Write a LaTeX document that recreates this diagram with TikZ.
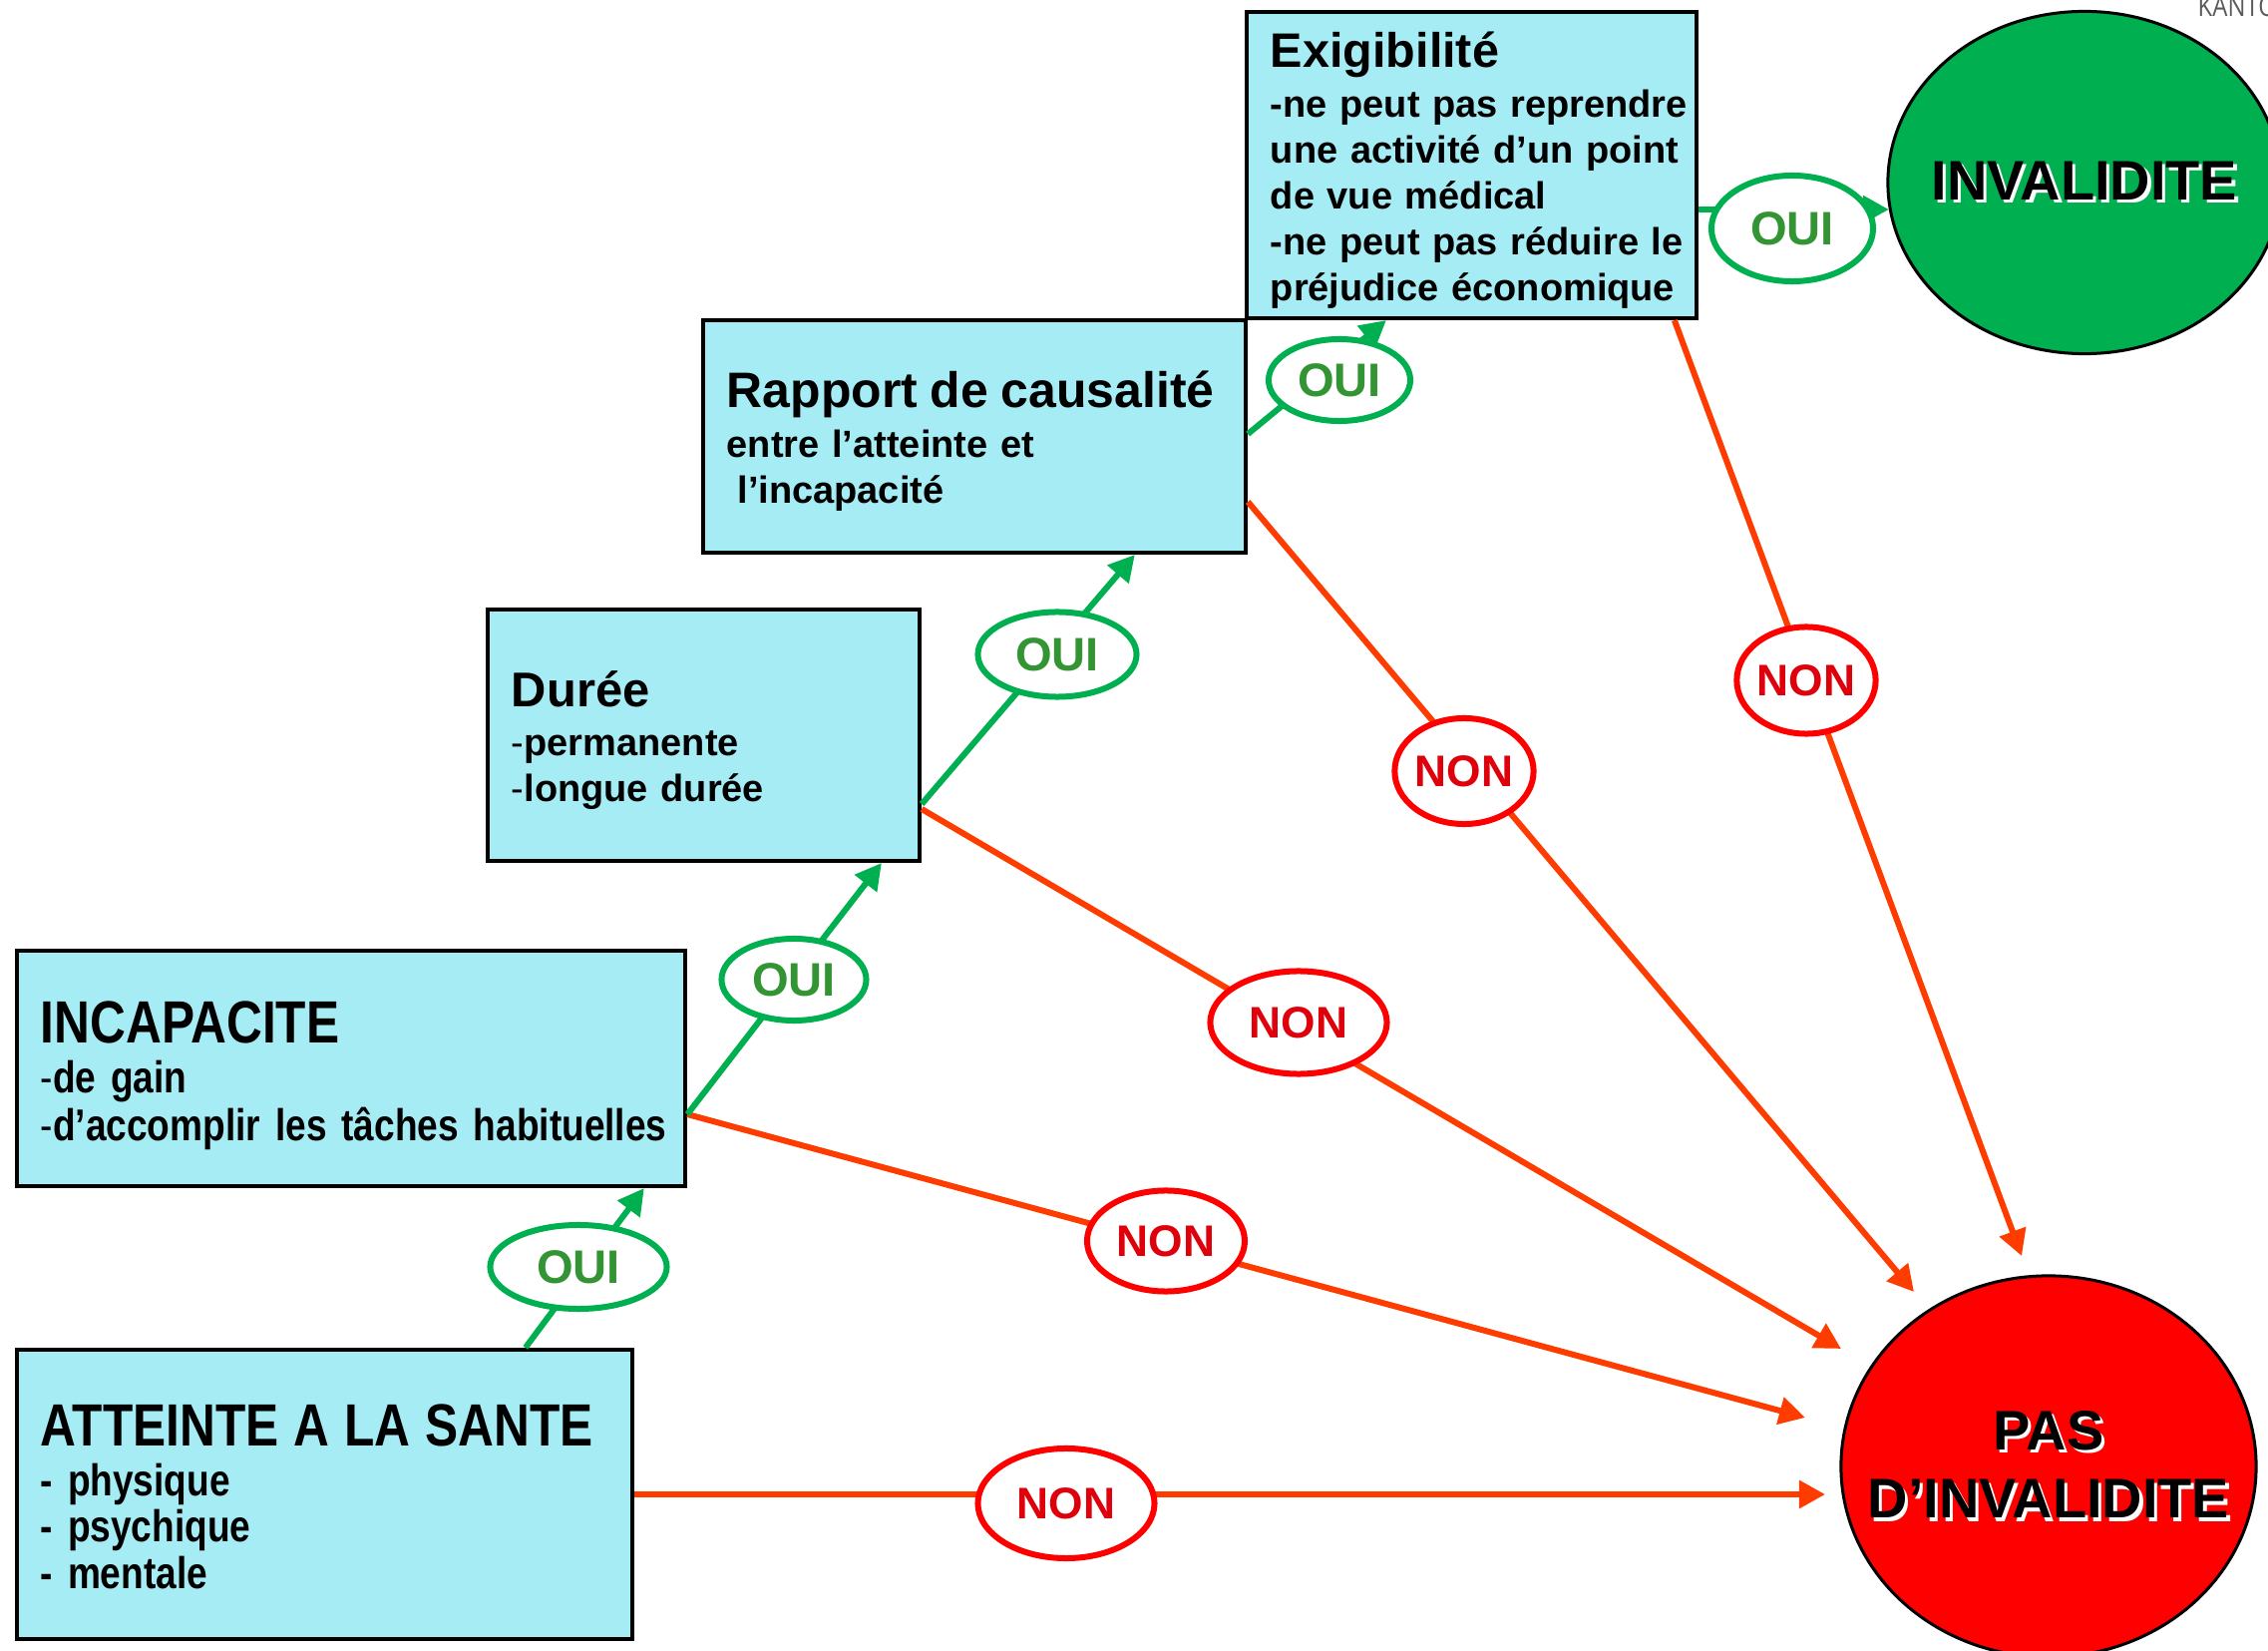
\documentclass[tikz,border=0pt]{standalone}
\usepackage{fontspec}
\setmainfont{Liberation Sans}
\newfontfamily\condfont{Liberation Sans}[FakeStretch=0.83]
\newfontfamily\kantofont{Open Sans}[FakeStretch=0.85]
\usetikzlibrary{arrows.meta,shapes.geometric,calc}
\definecolor{boxcyan}{RGB}{166,236,245}
\definecolor{ouigreen}{RGB}{0,176,80}
\definecolor{ouitext}{RGB}{50,148,50}
\definecolor{nonline}{RGB}{255,60,0}
\definecolor{nonred}{RGB}{255,0,0}
\definecolor{nontext}{RGB}{222,0,10}
\definecolor{invgreen}{RGB}{0,176,80}
\definecolor{pasred}{RGB}{255,0,0}
\definecolor{kantogray}{RGB}{90,90,90}
\newcommand\glowtxt[1]{\makebox[0pt][l]{\hspace{0.9pt}\raisebox{-0.9pt}{\textcolor{white}{#1}}}#1}
\tikzset{
  infobox/.style n args={3}{rectangle, draw=black, line width=0.04cm, fill=boxcyan,
    inner xsep=0.24cm, inner ysep=0pt, minimum width=#1, text width=#2, minimum height=#3},
  normbody/.style={font=\bfseries\fontsize{10.8pt}{13.1pt}\selectfont},
  condbody/.style={font=\condfont\bfseries\fontsize{12.7pt}{13.1pt}\selectfont},
  ouilbl/.style 2 args={ellipse, draw=ouigreen, line width=0.06cm, fill=white, inner sep=0pt,
    minimum width=#1, minimum height=#2, text=ouitext, font=\bfseries\fontsize{13.4pt}{14pt}\selectfont},
  nonlbl/.style 2 args={ellipse, draw=nonred, line width=0.06cm, fill=white, inner sep=0pt,
    minimum width=#1, minimum height=#2, text=nontext, font=\bfseries\fontsize{12.6pt}{14pt}\selectfont},
  garrow/.style={draw=ouigreen, line width=0.06cm, -{Triangle[length=0.26cm,width=0.27cm]}},
  rarrow/.style={draw=nonline, line width=0.06cm, -{Triangle[length=0.26cm,width=0.27cm]}},
  endcircle/.style={ellipse, draw=black, line width=0.03cm, inner sep=0pt,
    font=\bfseries\fontsize{15.9pt}{19.4pt}\selectfont}
}
\begin{document}
\begin{tikzpicture}[x=0.01cm, y=-0.01cm]
\useasboundingbox (0,0) rectangle (2274,1655);

% boxes
\node[infobox={4.51cm}{4.03cm}{3.07cm}, normbody] (exig) at (1475.5,165.5)
  {\begin{tabular}{@{}l@{}}\rule{0pt}{14.8pt}{\fontsize{13.8pt}{16pt}\selectfont Exigibilité}\\[1pt]
   -ne peut pas reprendre\\ une activité d’un point\\ de vue médical\\ -ne peut pas réduire le\\ préjudice économique\end{tabular}};
\node[infobox={5.44cm}{4.96cm}{2.33cm}, normbody] (rapport) at (977,437.5)
  {\begin{tabular}{@{}l@{}}\rule{0pt}{14.7pt}{\fontsize{14.2pt}{16pt}\selectfont Rapport de causalité}\\[1pt]
   entre l’atteinte et\\ \hspace*{0.28em}l’incapacité\end{tabular}};
\node[infobox={4.33cm}{3.85cm}{2.52cm}, normbody] (duree) at (705.5,737)
  {\begin{tabular}{@{}l@{}}\rule{0pt}{14.8pt}{\fontsize{13.9pt}{16pt}\selectfont Durée}\\[0.8pt]
   {\mdseries -}permanente\\ {\mdseries -}longue durée\end{tabular}};
\node[infobox={6.70cm}{6.22cm}{2.36cm}, condbody] (incap) at (352,1071)
  {\begin{tabular}{@{}l@{}}\rule{0pt}{17.2pt}{\fontsize{17pt}{18pt}\selectfont INCAPACITE}\\[1.2pt]
   {\mdseries -}de gain\\ {\mdseries -}d’accomplir les tâches habituelles\end{tabular}};
\node[infobox={6.17cm}{5.69cm}{2.90cm}, condbody] (atteinte) at (325.5,1498)
  {\begin{tabular}{@{}l@{}}\rule{0pt}{16.8pt}{\fontsize{17pt}{18pt}\selectfont ATTEINTE A LA SANTE}\\[1.2pt]
   - physique\\ - psychique\\ - mentale\end{tabular}};

% outcome circles
\node[endcircle, fill=invgreen, minimum width=3.94cm, minimum height=3.43cm] (invalid) at (2090,183)
  {\makebox[0pt]{\glowtxt{INVALIDITE}}};
\node[endcircle, fill=pasred, minimum width=4.16cm, minimum height=3.82cm] (pas) at (2054,1470)
  {\makebox[0pt]{\begin{tabular}{@{}c@{}}\rule{0pt}{15.9pt}\glowtxt{PAS}\\ \glowtxt{D’INVALIDITE}\end{tabular}}};

% free ends of the NON arrows
\coordinate (r1) at (1830,1498);
\coordinate (r2) at (1810,1421);
\coordinate (r3) at (1846,1352);
\coordinate (r4) at (1919,1295);
\coordinate (r5) at (2027,1259);

% NON connectors
\draw[rarrow] (atteinte.east) -- (r1);
\draw[rarrow] ($(incap.east)+(0,46)$) -- (r2);
\draw[rarrow] ($(duree.east)+(0,74)$) -- (r3);
\draw[rarrow] ($(rapport.east)+(0,65.5)$) -- (r4);
\draw[rarrow] ($(exig.south west)+(431,0)$) -- (r5);

% OUI connectors
\draw[garrow] ($(atteinte.north west)+(512,0)$) -- ($(incap.south west)+(631,0)$);
\draw[garrow] ($(incap.east)+(0,46)$) -- ($(duree.south west)+(397,0)$);
\draw[garrow] ($(duree.east)+(0,69)$) -- ($(rapport.south west)+(435,0)$);
\draw[garrow] ($(rapport.east)+(0,-2.5)$) -- ($(exig.south west)+(142,0)$);
\draw[garrow] ($(exig.east)+(0,44.5)$) -- ($(invalid.west)+(2.4,27)$);

% labels
\node[ouilbl={1.77cm}{0.84cm}] (oui1) at (580,1270) {OUI};
\node[ouilbl={1.45cm}{0.82cm}] (oui2) at (796,982) {OUI};
\node[ouilbl={1.59cm}{0.85cm}] (oui3) at (1060,656) {OUI};
\node[ouilbl={1.42cm}{0.82cm}] (oui4) at (1343,381) {OUI};
\node[ouilbl={1.62cm}{1.06cm}] (oui5) at (1797,229) {OUI};

\node[nonlbl={1.77cm}{1.10cm}] (non1) at (1069,1507) {NON};
\node[nonlbl={1.58cm}{1.01cm}] (non2) at (1169,1244) {NON};
\node[nonlbl={1.77cm}{1.03cm}] (non3) at (1302,1025) {NON};
\node[nonlbl={1.39cm}{1.06cm}] (non4) at (1468,773) {NON};
\node[nonlbl={1.39cm}{1.07cm}] (non5) at (1811,682) {NON};

% corner text
\node[anchor=base west, inner sep=0pt, text=kantogray, font=\kantofont\fontsize{8pt}{9pt}\selectfont] (kanto) at (2203,17) {KANTO};
\end{tikzpicture}
\end{document}
